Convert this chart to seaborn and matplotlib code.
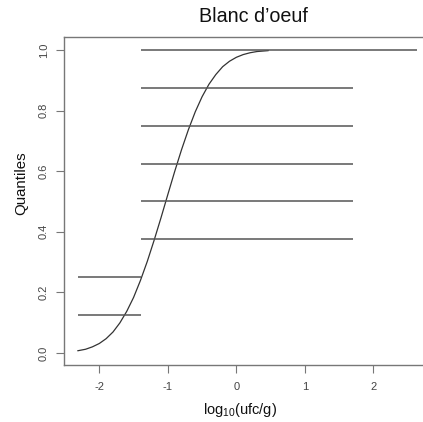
import numpy as np
import pandas as pd
import matplotlib
matplotlib.use("Agg")
import matplotlib.pyplot as plt
import seaborn as sns

# Fitted curve
curve_x = [-2.315, -2.2, -2.1, -2.0, -1.9, -1.8, -1.7, -1.6, -1.5, -1.4, -1.3, -1.2, -1.1, -1.0,
           -0.9, -0.8, -0.7, -0.6, -0.5, -0.4, -0.3, -0.2, -0.1, 0.0, 0.1, 0.2, 0.3, 0.467]
curve_y = [0.007, 0.012, 0.020, 0.031, 0.047, 0.069, 0.099, 0.137, 0.183, 0.239, 0.302, 0.372, 0.446, 0.523,
           0.599, 0.671, 0.737, 0.796, 0.846, 0.887, 0.919, 0.945, 0.963, 0.976, 0.985, 0.991, 0.995, 0.998]

# Interval segments (empirical quantiles of censored data)
seg_y = [0.125, 0.25, 0.375, 0.5, 0.625, 0.75, 0.875, 1.0]
seg_xmin = [-2.315, -2.315, -1.39, -1.39, -1.39, -1.39, -1.39, -1.39]
seg_xmax = [-1.39, -1.39, 1.708, 1.708, 1.708, 1.708, 1.708, 2.633]

x_ticks = [-2, -1, 0, 1, 2]
x_ticklabels = ["-2", "-1", "0", "1", "2"]
y_ticks = [0.0, 0.2, 0.4, 0.6, 0.8, 1.0]
y_ticklabels = ["0.0", "0.2", "0.4", "0.6", "0.8", "1.0"]

title = "Blanc d\u2019oeuf"
xlabel = r"log$_{10}$(ufc/g)"
ylabel = "Quantiles"

sns.set_theme(style="white")
plt.rcParams['font.family'] = ['Liberation Sans', 'DejaVu Sans']
plt.rcParams['mathtext.fontset'] = 'custom'
plt.rcParams['mathtext.rm'] = 'Liberation Sans'
plt.rcParams['mathtext.default'] = 'regular'

W, H = 423, 422
fig = plt.figure(figsize=(W / 100, H / 100), dpi=100)
left_px, right_px, top_px, bot_px = 64, 442, 37, 365
ax = fig.add_axes([left_px / W, 1 - bot_px / H, (right_px - left_px) / W, (bot_px - top_px) / H])

df = pd.DataFrame({"x": curve_x, "y": curve_y})
sns.lineplot(data=df, x="x", y="y", ax=ax, color="#333333", linewidth=0.9, sort=False, estimator=None)
ax.hlines(seg_y, seg_xmin, seg_xmax, color="#555555", linewidth=1.1)

ax.set_xlim(-2.515, 3.0)
ax.set_ylim(-0.04, 1.043)
ax.set_xticks(x_ticks)
ax.set_xticklabels(x_ticklabels)
ax.set_yticks(y_ticks)
ax.set_yticklabels(y_ticklabels, rotation=90, va="center")
ax.tick_params(axis="both", direction="out", length=6, width=0.8, color="#777777",
               labelsize=8, labelcolor="#444444", left=True, bottom=True)
ax.tick_params(axis="x", pad=6.5)
ax.tick_params(axis="y", pad=5)
for s in ax.spines.values():
    s.set_color("#777777")
    s.set_linewidth(1.0)

ax.set_xlabel("")
ax.set_ylabel("")
fig.text(240 / W, 1 - 410 / H, xlabel, ha="center", va="center", fontsize=10.5, color="#111111")
fig.text(21 / W, 1 - 183 / H, ylabel, ha="center", va="center", rotation=90, fontsize=10.8, color="#111111")
fig.text(253 / W, 1 - 16 / H, title, ha="center", va="center", fontsize=14.2, color="#111111")

fig.savefig("out.png", dpi=100)
